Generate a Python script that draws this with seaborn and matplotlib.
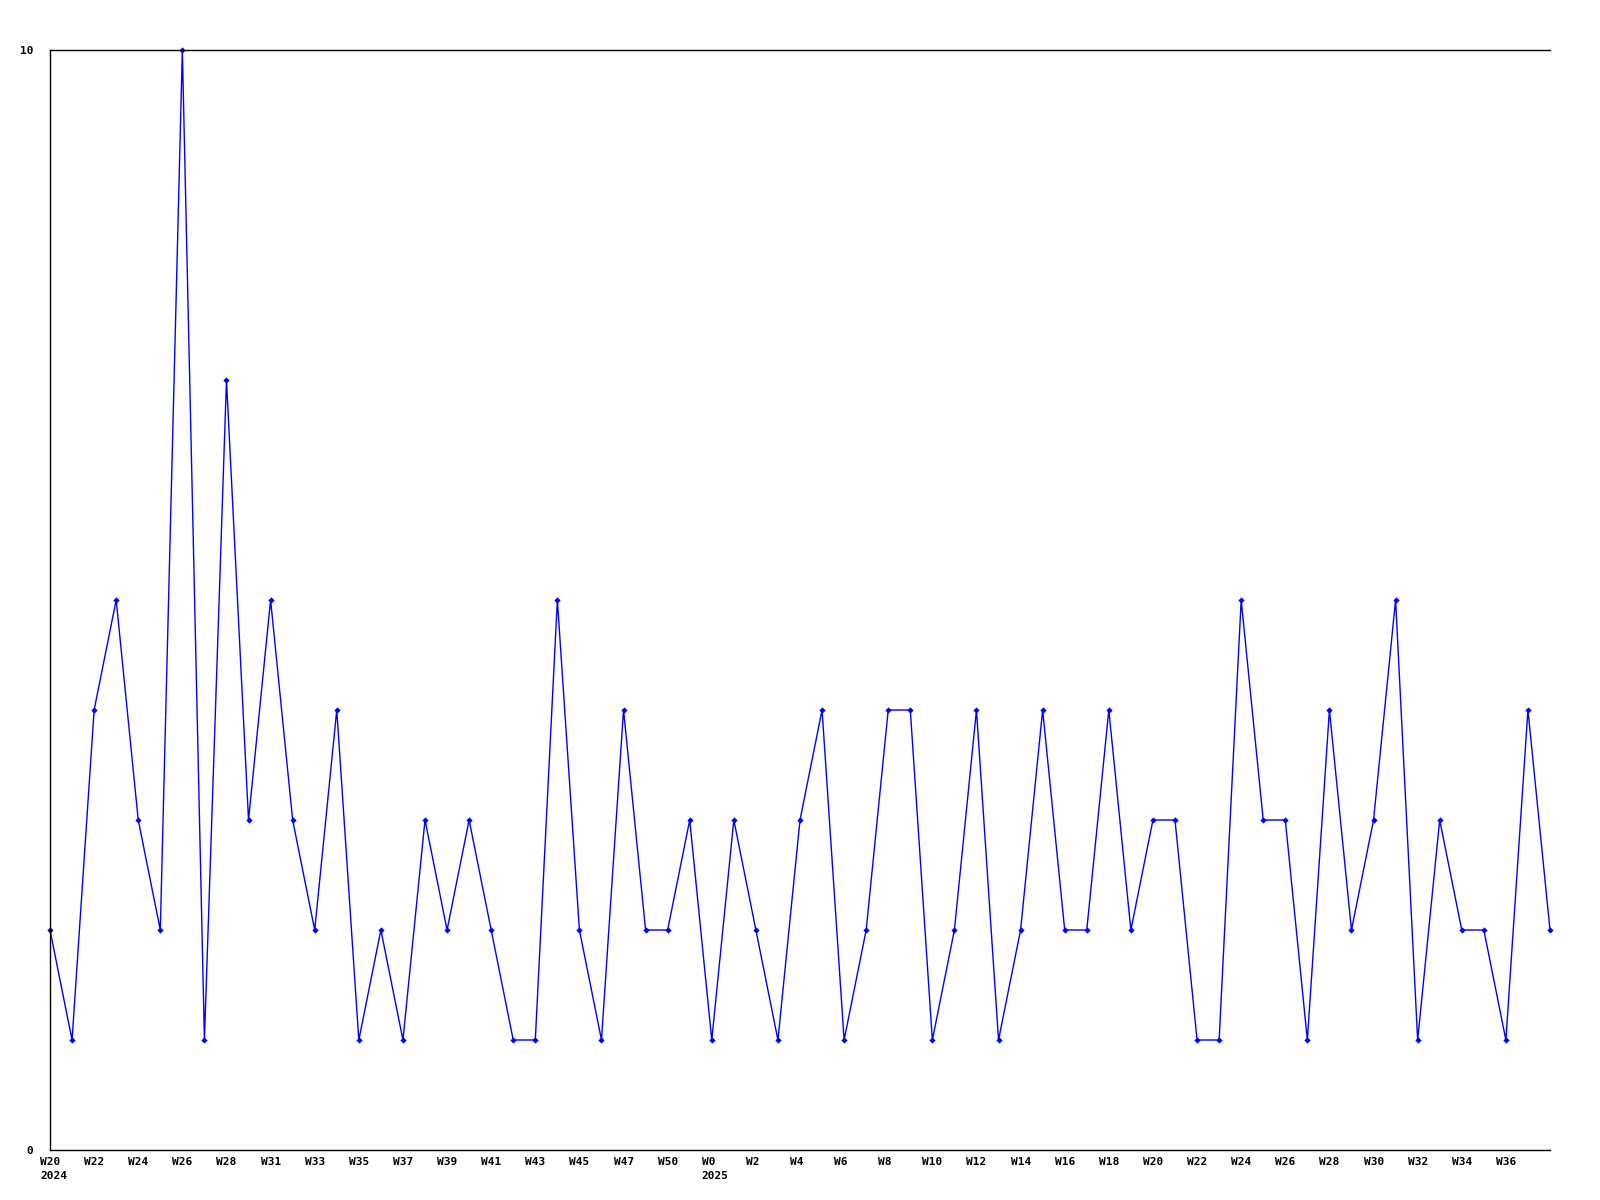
import matplotlib
matplotlib.use("Agg")
import matplotlib.pyplot as plt
import matplotlib.transforms as mtransforms
import seaborn as sns
import pandas as pd

values = [2, 1, 4, 5, 3, 2, 10, 1, 7, 3, 5, 3, 2, 4, 1, 2, 1, 3, 2, 3,
          2, 1, 1, 5, 2, 1, 4, 2, 2, 3, 1, 3, 2, 1, 3, 4, 1, 2, 4, 4,
          1, 2, 4, 1, 2, 4, 2, 2, 4, 2, 3, 3, 1, 1, 5, 3, 3, 1, 4, 2,
          3, 5, 1, 3, 2, 2, 1, 4, 2]
tick_labels = ["W20\n2024", "W22", "W24", "W26", "W28", "W31", "W33", "W35", "W37",
               "W39", "W41", "W43", "W45", "W47", "W50", "W0\n2025", "W2", "W4",
               "W6", "W8", "W10", "W12", "W14", "W16", "W18", "W20", "W22", "W24",
               "W26", "W28", "W30", "W32", "W34", "W36"]
y_ticks = [0, 10]

df = pd.DataFrame({"idx": range(len(values)), "count": values})

sns.set_style("white")
plt.rcParams["font.family"] = ["DejaVu Sans Mono", "DejaVu Sans"]
plt.rcParams["text.color"] = "black"
plt.rcParams["xtick.color"] = "black"
plt.rcParams["ytick.color"] = "black"

fig = plt.figure(figsize=(16, 12), dpi=100)
ax = fig.add_axes([50 / 1600, 1 - 1150 / 1200, 1500 / 1600, 1100 / 1200])

sns.lineplot(data=df, x="idx", y="count", ax=ax, color="#0000ff", linewidth=1,
             marker="D", markersize=3.2, markeredgewidth=0, clip_on=False)

ax.set_xlim(0, len(values) - 1)
ax.set_ylim(0, 10)
ax.set_xticks(range(0, 2 * len(tick_labels), 2))
ax.set_yticks(y_ticks)
ax.tick_params(axis="x", length=0, pad=5, labelcolor="black")
ax.tick_params(axis="y", length=0, pad=12, labelcolor="black")
ax.set_xticklabels(tick_labels, fontsize=8, fontweight="bold", ha="left",
                   multialignment="left", linespacing=1.55, color="black")
ax.set_yticklabels([str(v) for v in y_ticks], fontsize=8, fontweight="bold",
                   color="black")
offset = mtransforms.ScaledTranslation(-10 / 100, 0, fig.dpi_scale_trans)
for lab in ax.get_xticklabels():
    lab.set_transform(lab.get_transform() + offset)
ax.set_xlabel("")
ax.set_ylabel("")
for side in ["left", "top", "bottom"]:
    ax.spines[side].set_visible(True)
    ax.spines[side].set_color("black")
    ax.spines[side].set_linewidth(1)
ax.spines["right"].set_visible(False)
ax.grid(False)

fig.savefig("out.png", dpi=100)
